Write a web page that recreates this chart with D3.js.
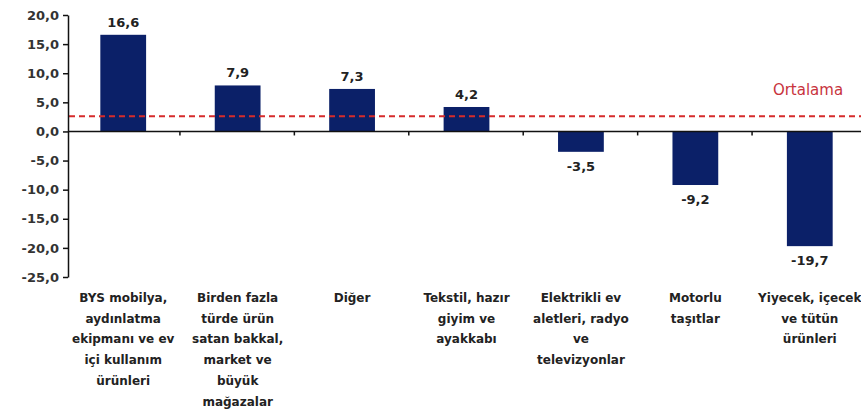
<!DOCTYPE html>
<html>
<head>
<meta charset="utf-8">
<script src="https://cdn.jsdelivr.net/npm/d3@7"></script>
<style>
  body { margin: 0; background: #fff; }
  text { font-family: "DejaVu Sans", Verdana, sans-serif; font-weight: bold; }
</style>
</head>
<body>
<svg id="chart" width="861" height="417"></svg>
<script>
// data
const categories = [
  ["BYS mobilya,", "aydınlatma", "ekipmanı ve ev", "içi kullanım", "ürünleri"],
  ["Birden fazla", "türde ürün", "satan bakkal,", "market ve", "büyük", "mağazalar"],
  ["Diğer"],
  ["Tekstil, hazır", "giyim ve", "ayakkabı"],
  ["Elektrikli ev", "aletleri, radyo", "ve", "televizyonlar"],
  ["Motorlu", "taşıtlar"],
  ["Yiyecek, içecek", "ve tütün", "ürünleri"]
];
const values = [16.6, 7.9, 7.3, 4.2, -3.5, -9.2, -19.7];
const average = 2.6;
const yTicks = [20, 15, 10, 5, 0, -5, -10, -15, -20, -25];

const svg = d3.select("#chart");
const fmt = v => v.toFixed(1).replace(".", ",");

let x = d3.scaleBand().domain(d3.range(values.length)).range([66, 867]).paddingInner(0.6).paddingOuter(0.3);
let y = d3.scaleLinear().domain([-25, 20]).range([277, 15]);

// bars
svg.selectAll("rect.bar")
  .data(values)
  .join("rect")
  .attr("class", "bar")
  .attr("x", (d, i) => x(i))
  .attr("width", x.bandwidth())
  .attr("y", d => y(Math.max(0, d)))
  .attr("height", d => Math.abs(y(d) - y(0)))
  .attr("fill", "#0b2068");

// value labels
svg.selectAll("text.val")
  .data(values)
  .join("text")
  .attr("class", "val")
  .attr("x", (d, i) => x(i) + x.bandwidth() / 2)
  .attr("y", d => d >= 0 ? y(d) - 8 : y(d) + 19)
  .attr("text-anchor", "middle")
  .attr("font-size", 13)
  .attr("fill", "#222")
  .text(fmt);

// average line
svg.append("line")
  .attr("x1", 69).attr("x2", 861)
  .attr("y1", y(average)).attr("y2", y(average))
  .attr("stroke", "#d62b2b")
  .attr("stroke-width", 2)
  .attr("stroke-dasharray", "6,4");

svg.append("text")
  .attr("x", 808).attr("y", y(average) - 21)
  .attr("text-anchor", "middle")
  .attr("font-size", 15)
  .style("font-weight", "normal")
  .attr("fill", "#c8333d")
  .text("Ortalama");

// y axis
let yAxis = d3.axisLeft(y).tickValues(yTicks).tickFormat(fmt).tickSize(5).tickSizeOuter(0);
let gy = svg.append("g").attr("transform", "translate(68,0)").call(yAxis);
gy.select(".domain").attr("stroke", "#111").attr("stroke-width", 1.5);
gy.selectAll(".tick line").attr("stroke", "#111").attr("stroke-width", 1.5);
gy.selectAll(".tick text")
  .attr("font-size", 13)
  .attr("font-family", "DejaVu Sans, sans-serif")
  .attr("font-weight", "bold")
  .attr("fill", "#333")
  .attr("x", -9);

// zero line with category separators
svg.append("line")
  .attr("x1", 68).attr("x2", 861)
  .attr("y1", y(0)).attr("y2", y(0))
  .attr("stroke", "#111").attr("stroke-width", 1.5);

let step = x.step();
svg.selectAll("line.sep")
  .data(d3.range(1, values.length))
  .join("line")
  .attr("class", "sep")
  .attr("x1", i => x(i) - step * 0.6 / 2 - 0.5)
  .attr("x2", i => x(i) - step * 0.6 / 2 - 0.5)
  .attr("y1", y(0)).attr("y2", y(0) + 4)
  .attr("stroke", "#111").attr("stroke-width", 1.5);

// category labels
let cat = svg.selectAll("text.cat")
  .data(categories)
  .join("text")
  .attr("class", "cat")
  .attr("text-anchor", "middle")
  .attr("font-size", 12)
  .attr("fill", "#222");

cat.selectAll("tspan")
  .data((d, i) => d.map(line => ({ line, i })))
  .join("tspan")
  .attr("x", d => x(d.i) + x.bandwidth() / 2)
  .attr("y", (d, j) => 302 + j * 20.7)
  .text(d => d.line);
</script>
</body>
</html>
